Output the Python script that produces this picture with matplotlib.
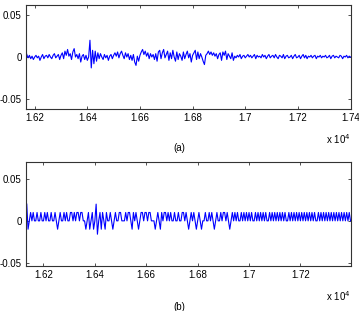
import numpy as np
import matplotlib.pyplot as plt
from matplotlib.ticker import FuncFormatter

plt.rcParams['font.family'] = ['Liberation Sans', 'DejaVu Sans']
plt.rcParams['font.size'] = 7
plt.rcParams['axes.unicode_minus'] = False

# (a) raw signal, sampled every 5 units from 16165 (values in 1e-3)
start_a = 16165
step_a = 5
sig_a = [8, 3, -1, 2, -2, 1, -3, 0, 2, -1, 1, -4, 0, 3, -2, 1, 2, -1, 3, 0, -2, 2, 4, -1, 1, 3, -3, 2,
         5, -2, 7, 2, 9, 1, 4, -3, 6, 10, 0, 3,
         -2, 4, -6, 1, 3, -3, 2, -4, 0,
         20, -13, 8, -8, 7, -5, 5,
         -2, 4, 0, -3, 3, -1, 2, -4, 1, 3, -2, 2,
         5, 1, 6, -1, 4, 7, 2, -2, 5, 0, 4, -3,
         2, -4, 3, -6, -10, 1, -5, 2,
         6, 9, 3, 7, 1, 5, -2, 4, 0, 3,
         -3, 4, -5, 6, 8, -2, 5, 9, -1, 3,
         7, -4, 5, -2, 8, 0, -5, 6, -3, 4, 1, -4,
         6, -2, 3, 7, -1, 4, -6, 2,
         5, 8, -3, 6, -2, 4, 0, -5, -9, 2,
         4, 7, 3, 6, 2, 5, 1, 4, -2, 3,
         5, -4, 6, 2, 7, -3, 4, 1, -2, 5,
         -4, 1, -1, 2, 0, 3, -2, 1, 2, -1,
         1, 3, 0, 2, -1, 1, 3, -2, 2, 0, 1, -1, 3, 0, 2, -2, 1, 3, -1, 1,
         2, -1, 3, 0, -2, 2, 1, -1, 3, -2, 1, 2, -1, 0, 2, -2, 1, 3, -1, 0,
         2, -2, 1, 3, -1, 2, -2, 1, 0, 2, -1, 1, 2, -2, 1, 0, 2, -1, 1, 0,
         2, -1, 0, 2, -2, 1, 2, -1, 1, 0, -1, 2, 1, -2, 1, 0, 2, -1, 1, 0]

# (b) quantised signal, sampled every 5 units from 16135 (values in 1e-3)
start_b = 16135
step_b = 5
sig_b = [20, -10, 0, 10, 0, 10, 0, 0, 10, 0,
         0, 10, 0, 0, 10, 0, 10, 0, 0, 10,
         0, 0, 10, 0, -10, 0, 10, 0, 0, 10,
         0, 10, 0, 0, 10, 10, 0, 10, 0, 10,
         10, 0, 10, 10, 0, 0, -10, 0, 10, -10,
         0, 10, -10, 0, 20, -16, 0, 10, -10, 10,
         0, -10, 10, 0, 0, 10, 0, -10, 0, 10,
         0, 0, 10, 10, 0, 0, 0, 10, 0, 10,
         10, 0, -10, 10, 0, 10, 0, -10, 0, 10,
         10, 0, 10, 10, 0, 10, 10, 0, 0, 0,
         -10, 0, 10, 0, -10, 10, 0, 10, 10, 0,
         10, 0, 10, 0, 0, 10, 0, 0, 10, 0,
         0, 10, 10, 0, 10, 0, -10, 0, 10, 0,
         10, 0, -10, 0, 10, 0, -10, 0, 0, 10,
         0, 0, 10, 0, 10, 0, -10, 0, 10, 0,
         0, 10, 0, 10, 10, 0, 10, 0, -10, 0,
         10, 0, 10, 0, 10, 0, 0, 10, 0, 10,
         0, 10, 0, 10, 0, 10, 0, 0, 10, 0,
         10, 0, 10, 0, 10, 0, 10, 0, 0, 10,
         0, 10, 0, 10, 0, 10, 0, 10, 0, 10,
         0, 10, 0, 0, 10, 0, 10, 0, 10, 0,
         10, 0, 10, 0, 10, 0, 10, 0, 10, 0,
         10, 0, 10, 0, 10, 0, 0, 10, 0, 10,
         0, 10, 0, 10, 0, 10, 0, 10, 0, 10,
         0, 10, 0, 10, 0, 10, 0, 10, 0, 10,
         0, 10, 0]

xticks_a = [16200, 16400, 16600, 16800, 17000, 17200, 17400]
xticks_b = [16200, 16400, 16600, 16800, 17000, 17200]
yticks = [-0.05, 0, 0.05]

x_a = start_a + step_a * np.arange(len(sig_a))
y_a = np.array(sig_a) / 1000
x_b = start_b + step_b * np.arange(len(sig_b))
y_b = np.array(sig_b) / 1000

fig = plt.figure(figsize=(3.59, 3.11), dpi=100)
ax1 = fig.add_axes([0.0724, 0.6495, 0.904, 0.3344])
ax2 = fig.add_axes([0.0724, 0.1447, 0.904, 0.3334])

fmt_x = FuncFormatter(lambda v, p: f'{v / 1e4:g}')
fmt_y = FuncFormatter(lambda v, p: f'{v:g}')

for ax, x, y, xt, xl, yl in [(ax1, x_a, y_a, xticks_a, (16167, 17400), (-0.062, 0.062)),
                             (ax2, x_b, y_b, xticks_b, (16132, 17395), (-0.054, 0.070))]:
    ax.plot(x, y, color='#0000ff', lw=0.8)
    ax.set_xlim(xl)
    ax.set_ylim(yl)
    ax.set_xticks(xt)
    ax.set_yticks(yticks)
    ax.xaxis.set_major_formatter(fmt_x)
    ax.yaxis.set_major_formatter(fmt_y)
    ax.tick_params(direction='in', length=2.5, width=0.6, top=True, right=True,
                   labelsize=7, pad=3, colors='#333333', labelcolor='black')
    for s in ax.spines.values():
        s.set_linewidth(0.8)
        s.set_color('#333333')
    ax.text(1.0, -0.22, r'x 10$^4$', transform=ax.transAxes, ha='right', va='top',
            fontsize=7)

fig.text(0.5, 1 - 148 / 311, '(a)', ha='center', va='center', fontsize=7)
fig.text(0.5, 1 - 302 / 311, '(b)', ha='center', va='top', fontsize=7)

fig.savefig('out.png', dpi=100)
